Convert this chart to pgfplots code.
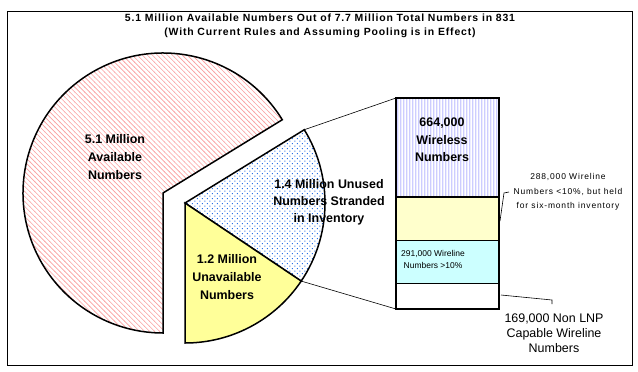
\documentclass[border=0pt]{standalone}
\usepackage{pgfplots}
\pgfplotsset{compat=1.18}
\usetikzlibrary{patterns}
\usepackage{fontspec}
\setmainfont{Liberation Sans}
\definecolor{unavyellow}{RGB}{255,255,153}
\definecolor{paleyellow}{RGB}{255,255,204}
\definecolor{palecyan}{RGB}{204,255,255}
\definecolor{lavender}{RGB}{205,205,255}
\definecolor{hatchred}{RGB}{250,160,160}
\definecolor{dotblue}{RGB}{40,110,230}
\pgfdeclarepatternformonly{pinkhatch}{\pgfqpoint{-0.5pt}{-0.5pt}}{\pgfqpoint{5.5pt}{5.5pt}}{\pgfqpoint{5pt}{5pt}}{%
  \pgfsetlinewidth{0.6pt}%
  \pgfpathmoveto{\pgfqpoint{-0.3pt}{5.3pt}}\pgfpathlineto{\pgfqpoint{5.3pt}{-0.3pt}}%
  \pgfusepath{stroke}}
\pgfdeclarepatternformonly{bluedots}{\pgfqpoint{0pt}{0pt}}{\pgfqpoint{5pt}{5pt}}{\pgfqpoint{5pt}{5pt}}{%
  \pgfpathrectangle{\pgfqpoint{0.5pt}{0.5pt}}{\pgfqpoint{1pt}{1pt}}%
  \pgfpathrectangle{\pgfqpoint{3pt}{3pt}}{\pgfqpoint{1pt}{1pt}}%
  \pgfusepath{fill}}
\pgfdeclarepatternformonly{vstripes}{\pgfqpoint{0pt}{0pt}}{\pgfqpoint{3pt}{3pt}}{\pgfqpoint{3pt}{3pt}}{%
  \pgfpathrectangle{\pgfqpoint{0pt}{-0.1pt}}{\pgfqpoint{1.3pt}{3.2pt}}%
  \pgfusepath{fill}}
\begin{document}
\begin{tikzpicture}
% pie values (millions)
\pgfmathsetmacro\vAvail{5.1}
\pgfmathsetmacro\vStrand{1.4}
\pgfmathsetmacro\vUnav{1.2}
\pgfmathsetmacro\vTotal{\vAvail+\vStrand+\vUnav}
\pgfmathsetmacro\aA{270-360*\vAvail/\vTotal}
\pgfmathsetmacro\aU{-90+360*\vUnav/\vTotal}
% ---------- bar of pie ----------
\begin{axis}[at={(396bp,62bp)}, anchor=south west, scale only axis,
  width=103bp, height=211bp, xmin=0, xmax=1, ymin=0, ymax=1412,
  hide axis, clip=false, ybar stacked, bar width=1,
  every axis plot/.append style={draw=black, line width=1.5bp}]
\addplot[fill=white] coordinates {(0.5,169)};
\addplot[fill=palecyan] coordinates {(0.5,291)};
\addplot[fill=paleyellow] coordinates {(0.5,288)};
\addplot[fill=white, postaction={pattern=vstripes, pattern color=lavender}] coordinates {(0.5,664)};
\end{axis}
% ---------- pie and texts ----------
\begin{axis}[at={(0,0)}, anchor=south west, x=1bp, y=1bp,
  xmin=0, xmax=638, ymin=0, ymax=371, hide axis, clip=false]
\path (axis cs:0,0) rectangle (axis cs:638,371);
\draw[line width=0.8bp] (axis cs:7,6) rectangle (axis cs:632,360);
% available slice
\draw[line width=1.5bp, pattern=pinkhatch, pattern color=hatchred]
  (axis cs:163,178) -- ++(\aA:140bp) arc[start angle=\aA, end angle=270, radius=140bp] -- cycle;
% stranded slice
\draw[line width=1.5bp, pattern=bluedots, pattern color=dotblue]
  (axis cs:185,168) -- ++(\aU:140bp) arc[start angle=\aU, end angle=\aA, radius=140bp] -- cycle;
% unavailable slice
\draw[line width=1.5bp, fill=unavyellow]
  (axis cs:185,168) -- ++(-90:140bp) arc[start angle=-90, end angle=\aU, radius=140bp] -- cycle;
% connectors
\draw[line width=0.6bp] (axis cs:185,168) ++(\aA:140bp) -- (axis cs:396,273);
\draw[line width=0.6bp] (axis cs:185,168) ++(\aU:140bp) -- (axis cs:396,62);
\draw[line width=0.6bp] (axis cs:500,150) -- (axis cs:504,178) -- (axis cs:509,179);
\draw[line width=0.6bp] (axis cs:501,76) -- (axis cs:552,71) -- (axis cs:552,67);
% title
\node[font=\fontsize{10.5}{14}\selectfont\bfseries\addfontfeature{LetterSpace=8}, align=center] at (axis cs:320,345)
  {5.1 Million Available Numbers Out of 7.7 Million Total Numbers in 831\\(With Current Rules and Assuming Pooling is in Effect)};
% pie labels
\node[font=\fontsize{12.5}{18}\selectfont\bfseries, align=center] at (axis cs:115,214)
  {5.1 Million\\Available\\Numbers};
\node[font=\fontsize{12.5}{18}\selectfont\bfseries, align=center] at (axis cs:227,94)
  {1.2 Million\\Unavailable\\Numbers};
\node[font=\fontsize{12.5}{17}\selectfont\bfseries, align=center] at (axis cs:329,169)
  {1.4 Million Unused\\Numbers Stranded\\in Inventory};
% bar labels
\node[font=\fontsize{12.5}{17.5}\selectfont\bfseries, align=center] at (axis cs:442,231)
  {664,000\\Wireless\\Numbers};
\node[font=\fontsize{8.5}{14.5}\selectfont\addfontfeature{LetterSpace=10}, align=center] at (axis cs:568,179)
  {288,000 Wireline\\Numbers <10\%, but held\\for six-month inventory};
\node[font=\fontsize{8.5}{12}\selectfont, align=center] at (axis cs:433,112)
  {291,000 Wireline\\Numbers >10\%};
\node[font=\fontsize{12.5}{15}\selectfont, align=center] at (axis cs:554,38)
  {169,000 Non LNP\\Capable Wireline\\Numbers};
\end{axis}
\end{tikzpicture}
\end{document}
